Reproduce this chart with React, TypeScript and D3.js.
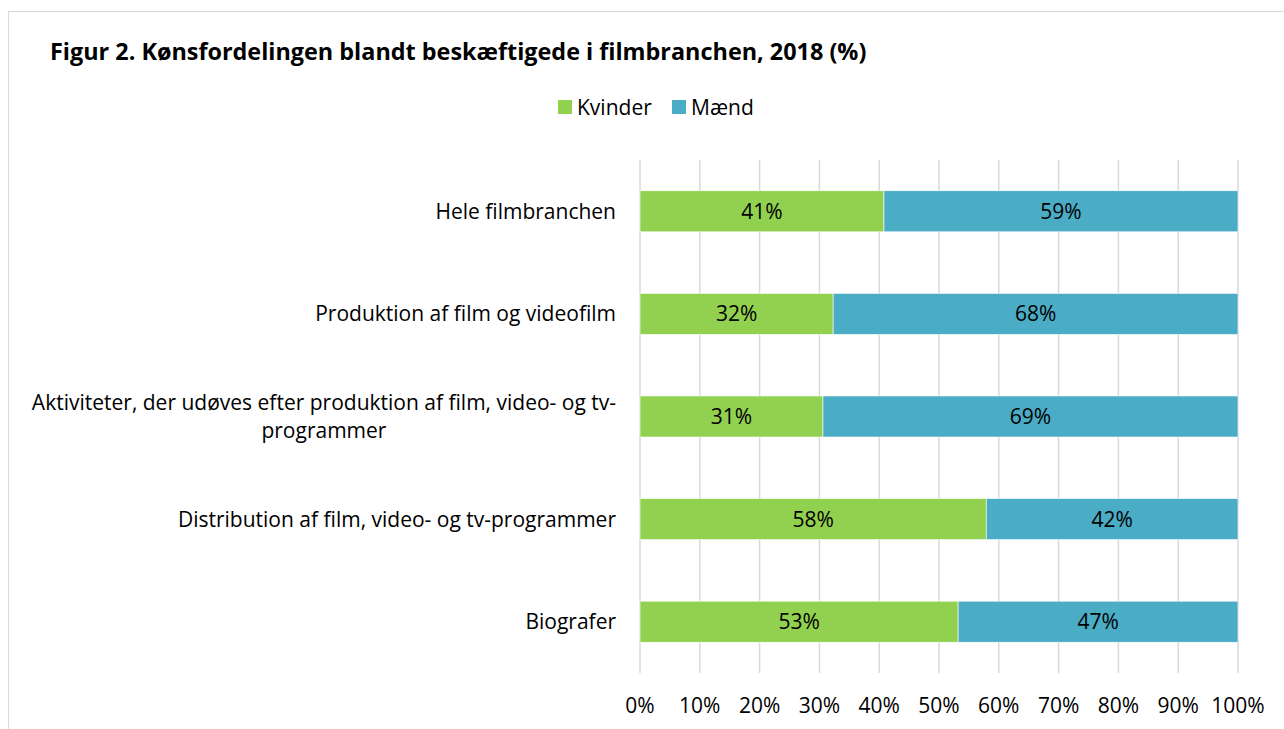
import { useEffect, useRef } from 'react';
import * as d3 from 'd3';

const categories = [
  'Hele filmbranchen',
  'Produktion af film og videofilm',
  'Aktiviteter, der udøves efter produktion af film, video- og tv-|programmer',
  'Distribution af film, video- og tv-programmer',
  'Biografer',
];
const kvinder = [40.8, 32.3, 30.6, 57.9, 53.2];
const maend = [59.2, 67.7, 69.4, 42.1, 46.8];
const seriesNames = ['Kvinder', 'Mænd'];
const colors = ['#92D050', '#4BACC6'];
const ticks = [0, 10, 20, 30, 40, 50, 60, 70, 80, 90, 100];

const FONT = '"Open Sans", Lato, sans-serif';
const FS = 21;

function App() {
  const ref = useRef<SVGSVGElement>(null);

  useEffect(() => {
    const svg = d3.select(ref.current);
    svg.selectAll('*').remove();

    // outer frame
    svg.append('rect')
      .attr('x', 8.5).attr('y', 11.5)
      .attr('width', 1290).attr('height', 730)
      .attr('fill', 'white')
      .attr('stroke', '#d9d9d9');

    svg.append('text')
      .attr('x', 50).attr('y', 60)
      .attr('font-family', FONT)
      .attr('font-weight', 'bold')
      .attr('font-size', 23.4)
      .attr('fill', '#000')
      .text('Figur 2. Kønsfordelingen blandt beskæftigede i filmbranchen, 2018 (%)');

    // legend
    const legendX = [558, 672];
    seriesNames.forEach((name, i) => {
      svg.append('rect')
        .attr('x', legendX[i]).attr('y', 100)
        .attr('width', 14).attr('height', 14)
        .attr('fill', colors[i]);
      svg.append('text')
        .attr('x', legendX[i] + 19).attr('y', 115)
        .attr('font-family', FONT)
        .attr('font-size', FS)
        .attr('fill', '#000')
        .text(name);
    });

    const x = d3.scaleLinear().domain([0, 100]).range([640, 1238]);
    const y = d3.scaleBand().domain(categories).range([160, 673]).paddingInner(0.6).paddingOuter(0.3);

    // gridlines
    svg.append('g')
      .selectAll('line')
      .data(ticks)
      .join('line')
      .attr('x1', (d) => x(d)).attr('x2', (d) => x(d))
      .attr('y1', 160).attr('y2', 673)
      .attr('stroke', '#d9d9d9')
      .attr('stroke-width', 1.5);

    // tick labels
    svg.append('g')
      .selectAll('text')
      .data(ticks)
      .join('text')
      .attr('x', (d) => x(d))
      .attr('y', 712.5)
      .attr('text-anchor', 'middle')
      .attr('font-family', FONT)
      .attr('font-size', FS)
      .attr('fill', '#000')
      .text((d) => d + '%');

    const stacked = d3.stack<number>()
      .keys(['0', '1'])
      .value((i, key) => (key === '0' ? kvinder[i] : maend[i]))(d3.range(categories.length));

    stacked.forEach((layer, si) => {
      const g = svg.append('g');
      g.selectAll('rect')
        .data(layer)
        .join('rect')
        .attr('x', (d) => x(d[0]))
        .attr('width', (d) => x(d[1]) - x(d[0]))
        .attr('y', (_d, i) => y(categories[i])!)
        .attr('height', y.bandwidth())
        .attr('fill', colors[si])
        .attr('stroke', 'white')
        .attr('stroke-width', 0.6);
      g.selectAll('text')
        .data(layer)
        .join('text')
        .attr('x', (d) => (x(d[0]) + x(d[1])) / 2)
        .attr('y', (_d, i) => y(categories[i])! + y.bandwidth() / 2 + 7.5)
        .attr('text-anchor', 'middle')
        .attr('font-family', FONT)
        .attr('font-size', FS)
        .attr('fill', '#000')
        .text((_d, i) => Math.round(si === 0 ? kvinder[i] : maend[i]) + '%');
    });

    // category labels
    categories.forEach((c) => {
      const lines = c.split('|');
      const cy = y(c)! + y.bandwidth() / 2;
      if (lines.length === 1) {
        svg.append('text')
          .attr('x', 616).attr('y', cy + 7.5)
          .attr('text-anchor', 'end')
          .attr('font-family', FONT)
          .attr('font-size', FS)
          .attr('fill', '#000')
          .text(c);
      } else {
        const t = svg.append('text')
          .attr('font-family', FONT)
          .attr('font-size', FS)
          .attr('fill', '#000')
          .attr('text-anchor', 'middle');
        const spans = lines.map((l, i) => t.append('tspan').attr('y', cy + 7.5 - 14 + i * 28).text(l));
        const w = d3.max(spans, (s) => (s.node() as SVGTSpanElement).getComputedTextLength()) || 0;
        spans.forEach((s) => s.attr('x', 616 - w / 2));
      }
    });
  }, []);

  return (
    <svg
      ref={ref}
      width={1284}
      height={729}
      style={{ position: 'absolute', left: 0, top: 0, display: 'block' }}
    />
  );
}

export default App;
